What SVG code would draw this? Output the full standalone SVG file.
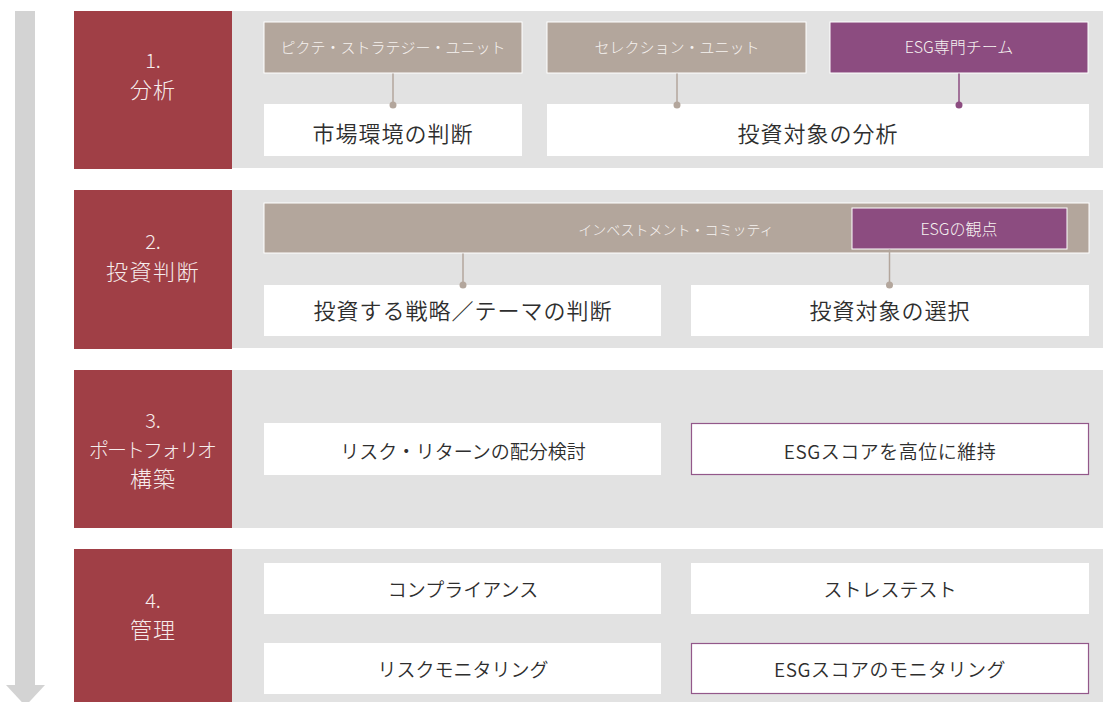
<svg xmlns="http://www.w3.org/2000/svg" width="1103" height="702" viewBox="0 0 1103 702">
  <style>
    text { font-family: "Noto Sans CJK JP", "Noto Sans", sans-serif; text-anchor: middle; font-weight: 300; }
    .band { fill: #e2e2e2; }
    .red { fill: #a03f46; }
    .tan { fill: #b3a69c; stroke: #ffffff; stroke-width: 1; }
    .pur { fill: #8c4c80; stroke: #ffffff; stroke-width: 1; }
    .wbox { fill: #ffffff; }
    .wesg { fill: #ffffff; stroke: #93588a; stroke-width: 1.2; }
    .lbl { fill: #f6ecec; font-size: 22px; }
    .num { fill: #f6ecec; font-size: 20px; }
    .hdr { fill: #f6f2f0; font-size: 15px; }
    .big { fill: #2e2e2e; font-size: 22px; letter-spacing: 1px; font-weight: 350; }
    .mid { fill: #2e2e2e; font-size: 19px; font-weight: 350; }
    .ctan { stroke: #b3a69c; stroke-width: 1.5; fill: none; }
    .cpur { stroke: #8c4c80; stroke-width: 1.5; fill: none; }
    .dtan { fill: #b3a69c; }
    .dpur { fill: #8c4c80; }
  </style>

  <g id="flow-arrow">
    <rect x="15" y="11" width="20" height="675" fill="#d3d3d3"/>
    <polygon points="6,685 45,685 25.5,706" fill="#d3d3d3"/>
  </g>

  <!-- Section 1 -->
  <g id="stage1">
    <rect class="band" x="74" y="11" width="1029" height="157"/>
    <rect class="red" x="74" y="11" width="158" height="158"/>
    <text class="num" x="153" y="68">1.</text>
    <text class="lbl" x="153" y="98" letter-spacing="1">分析</text>
  </g>
  <g id="n-pictet-strategy">
    <rect class="tan" x="264" y="22" width="258" height="51"/>
    <text class="hdr" x="393" y="53">ピクテ・ストラテジー・ユニット</text>
  </g>
  <g id="n-selection">
    <rect class="tan" x="547" y="22" width="259" height="51"/>
    <text class="hdr" x="677" y="53">セレクション・ユニット</text>
  </g>
  <g id="n-esg-team">
    <rect class="pur" x="830" y="22" width="258" height="51"/>
    <text class="hdr" x="959" y="53" style="font-size:16px">ESG専門チーム</text>
  </g>
  <g id="n-market">
    <rect class="wbox" x="264" y="104" width="258" height="52"/>
    <text class="big" x="393" y="142">市場環境の判断</text>
  </g>
  <g id="n-analysis">
    <rect class="wbox" x="547" y="104" width="542" height="52"/>
    <text class="big" x="818" y="142">投資対象の分析</text>
  </g>

  <!-- Section 2 -->
  <g id="stage2">
    <rect class="band" x="74" y="190" width="1029" height="158"/>
    <rect class="red" x="74" y="190" width="158" height="159"/>
    <text class="num" x="153" y="249">2.</text>
    <text class="lbl" x="153" y="280" letter-spacing="1.5">投資判断</text>
  </g>
  <g id="n-committee">
    <rect class="tan" x="264" y="203" width="825" height="50"/>
    <text class="hdr" x="676" y="235" style="font-size:14px">インベストメント・コミッティ</text>
  </g>
  <g id="n-esg-view">
    <rect class="pur" x="852" y="208" width="215" height="41"/>
    <text class="hdr" x="959" y="235" style="font-size:16px">ESGの観点</text>
  </g>
  <g id="n-strategy">
    <rect class="wbox" x="264" y="285" width="397" height="51"/>
    <text class="big" x="463" y="319">投資する戦略／テーマの判断</text>
  </g>
  <g id="n-selection-target">
    <rect class="wbox" x="691" y="285" width="398" height="51"/>
    <text class="big" x="890" y="319">投資対象の選択</text>
  </g>

  <!-- Section 3 -->
  <g id="stage3">
    <rect class="band" x="74" y="370" width="1029" height="158"/>
    <rect class="red" x="74" y="370" width="158" height="158"/>
    <text class="num" x="153" y="428">3.</text>
    <text class="lbl" x="153" y="458" style="font-size:20px" textLength="128">ポートフォリオ</text>
    <text class="lbl" x="153" y="487" letter-spacing="1">構築</text>
  </g>
  <g id="n-risk-return">
    <rect class="wbox" x="264" y="423" width="397" height="52"/>
    <text class="mid" x="463" y="459">リスク・リターンの配分検討</text>
  </g>
  <g id="n-esg-score">
    <rect class="wesg" x="691.5" y="423.5" width="397" height="51"/>
    <text class="mid" x="890" y="459" letter-spacing="0.5">ESGスコアを高位に維持</text>
  </g>

  <!-- Section 4 -->
  <g id="stage4">
    <rect class="band" x="74" y="549" width="1029" height="153"/>
    <rect class="red" x="74" y="549" width="158" height="153"/>
    <text class="num" x="153" y="608">4.</text>
    <text class="lbl" x="153" y="638" letter-spacing="1">管理</text>
  </g>
  <g id="n-compliance">
    <rect class="wbox" x="264" y="563" width="397" height="51"/>
    <text class="mid" x="463" y="597">コンプライアンス</text>
  </g>
  <g id="n-stress">
    <rect class="wbox" x="691" y="563" width="398" height="51"/>
    <text class="mid" x="890" y="597">ストレステスト</text>
  </g>
  <g id="n-risk-monitor">
    <rect class="wbox" x="264" y="643" width="397" height="51"/>
    <text class="mid" x="463" y="677">リスクモニタリング</text>
  </g>
  <g id="n-esg-monitor">
    <rect class="wesg" x="691.5" y="643.5" width="397" height="50"/>
    <text class="mid" x="890" y="677" letter-spacing="0.5">ESGスコアのモニタリング</text>
  </g>

  <!-- Connectors -->
  <g id="connectors">
    <line class="ctan" x1="393" y1="73.5" x2="393" y2="105"/>
    <circle class="dtan" cx="393" cy="105" r="3.5"/>
    <line class="ctan" x1="677" y1="73.5" x2="677" y2="105"/>
    <circle class="dtan" cx="677" cy="105" r="3.5"/>
    <line class="cpur" x1="959" y1="73.5" x2="959" y2="105"/>
    <circle class="dpur" cx="959" cy="105" r="3.5"/>
    <line class="ctan" x1="463" y1="253.5" x2="463" y2="285"/>
    <circle class="dtan" cx="463" cy="285" r="3.5"/>
    <line class="ctan" x1="889.5" y1="249.5" x2="889.5" y2="285"/>
    <circle class="dtan" cx="889.5" cy="285" r="3.5"/>
  </g>
</svg>
